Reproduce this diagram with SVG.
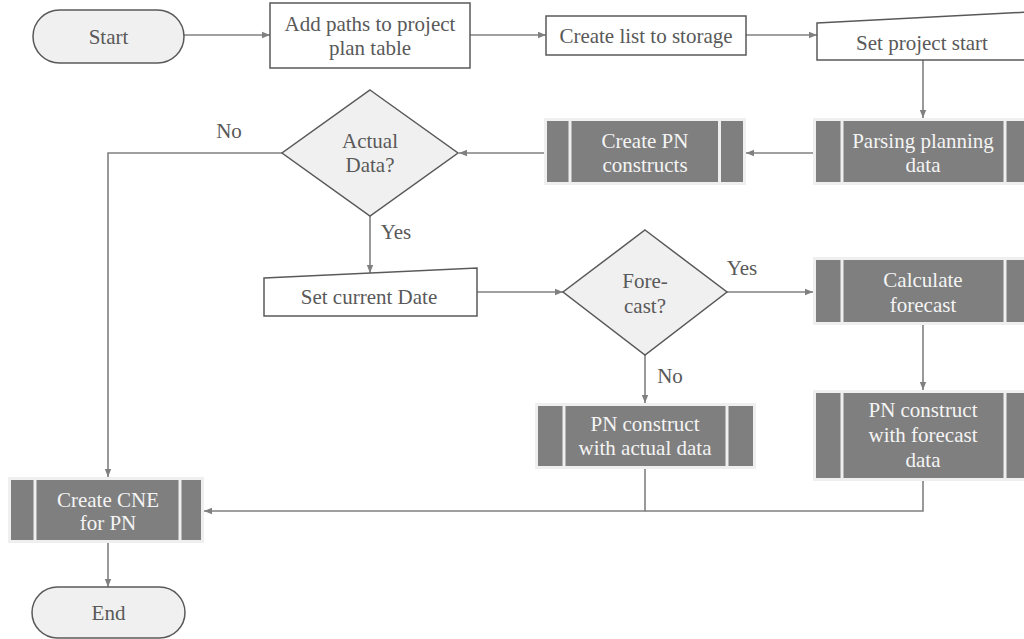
<svg xmlns="http://www.w3.org/2000/svg" width="1024" height="639" viewBox="0 0 1024 639" font-family="'Liberation Serif', 'Times New Roman', Times, 'DejaVu Serif', serif">
<defs>
<style>
text{font-family:'Liberation Serif','Times New Roman',Times,'DejaVu Serif',serif;font-size:21px;text-anchor:middle}
.lt{fill:#595959}
.dk{fill:#f4f4f4}
.term{fill:#f0f0f0;stroke:#595959;stroke-width:1.5}
.box{fill:#ffffff;stroke:#595959;stroke-width:1.5}
.dia{fill:#f0f0f0;stroke:#595959;stroke-width:1.5}
.pp{fill:#7f7f7f;stroke:#efefef;stroke-width:3}
.div{stroke:#efefef;stroke-width:3}
.con{fill:none;stroke:#808080;stroke-width:1.6}
</style>
<marker id="ah" viewBox="0 0 10 10" refX="10" refY="5" markerWidth="8" markerHeight="8" markerUnits="userSpaceOnUse" orient="auto">
<path d="M0,1 L10,5 L0,9 Z" fill="#808080"/>
</marker>
</defs>
<rect width="1024" height="639" fill="#ffffff"/>
<g id="connectors">
<path class="con" d="M184,35 H270" marker-end="url(#ah)"/>
<path class="con" d="M470,35 H546" marker-end="url(#ah)"/>
<path class="con" d="M746,35 H817" marker-end="url(#ah)"/>
<path class="con" d="M923,60 V118" marker-end="url(#ah)"/>
<path class="con" d="M813,153 H746" marker-end="url(#ah)"/>
<path class="con" d="M544,153 H459" marker-end="url(#ah)"/>
<path class="con" d="M282,153 H108 V477" marker-end="url(#ah)"/>
<path class="con" d="M370,216 V273" marker-end="url(#ah)"/>
<path class="con" d="M477,292 H563" marker-end="url(#ah)"/>
<path class="con" d="M727,292 H813" marker-end="url(#ah)"/>
<path class="con" d="M645,355 V403" marker-end="url(#ah)"/>
<path class="con" d="M923,325 V390" marker-end="url(#ah)"/>
<path class="con" d="M923,481 V511 H645"/>
<path class="con" d="M645,469 V511 H204" marker-end="url(#ah)"/>
<path class="con" d="M108,543 V587" marker-end="url(#ah)"/>
<text class="lt" x="229" y="138">No</text>
<text class="lt" x="396" y="239">Yes</text>
<text class="lt" x="742" y="275">Yes</text>
<text class="lt" x="670" y="383">No</text>
</g>
<g id="start">
<rect class="term" x="33" y="10" width="151" height="53" rx="26.5"/>
<text class="lt" x="108.5" y="44">Start</text>
</g>
<g id="add-paths">
<rect class="box" x="270" y="3" width="200" height="65"/>
<text class="lt" x="370" y="31">Add paths to project</text>
<text class="lt" x="370" y="55">plan table</text>
</g>
<g id="create-list">
<rect class="box" x="546" y="16" width="200" height="39"/>
<text class="lt" x="646" y="43">Create list to storage</text>
</g>
<g id="set-project-start">
<polygon class="box" points="817,23 1030,12 1030,60 817,60"/>
<text class="lt" x="922" y="50">Set project start</text>
</g>
<g id="parsing">
<rect class="pp" x="814.5" y="119.5" width="222" height="64"/>
<line class="div" x1="842" y1="119" x2="842" y2="184"/>
<line class="div" x1="1005" y1="119" x2="1005" y2="184"/>
<text class="dk" x="923" y="148">Parsing planning</text>
<text class="dk" x="923" y="172">data</text>
</g>
<g id="create-pn">
<rect class="pp" x="545.5" y="119.5" width="199" height="64"/>
<line class="div" x1="570" y1="119" x2="570" y2="184"/>
<line class="div" x1="719.5" y1="119" x2="719.5" y2="184"/>
<text class="dk" x="645" y="148">Create PN</text>
<text class="dk" x="645" y="172">constructs</text>
</g>
<g id="actual-data">
<polygon class="dia" points="370,90 458,153 370,216 282,153"/>
<text class="lt" x="370" y="148">Actual</text>
<text class="lt" x="370" y="172">Data?</text>
</g>
<g id="set-current-date">
<polygon class="box" points="264,278 477,268 477,316 264,316"/>
<text class="lt" x="369" y="304">Set current Date</text>
</g>
<g id="forecast">
<polygon class="dia" points="645,230 727,292 645,355 563,292"/>
<text class="lt" x="645" y="288">Fore-</text>
<text class="lt" x="645" y="313">cast?</text>
</g>
<g id="calculate-forecast">
<rect class="pp" x="814.5" y="258.5" width="222" height="65"/>
<line class="div" x1="842" y1="258" x2="842" y2="324"/>
<line class="div" x1="1005" y1="258" x2="1005" y2="324"/>
<text class="dk" x="923" y="287">Calculate</text>
<text class="dk" x="923" y="312">forecast</text>
</g>
<g id="pn-forecast">
<rect class="pp" x="814.5" y="391.5" width="222" height="88"/>
<line class="div" x1="842" y1="391" x2="842" y2="480"/>
<line class="div" x1="1005" y1="391" x2="1005" y2="480"/>
<text class="dk" x="923" y="417">PN construct</text>
<text class="dk" x="923" y="442">with forecast</text>
<text class="dk" x="923" y="467">data</text>
</g>
<g id="pn-actual">
<rect class="pp" x="536.5" y="404.5" width="218" height="63"/>
<line class="div" x1="564" y1="404" x2="564" y2="468"/>
<line class="div" x1="727" y1="404" x2="727" y2="468"/>
<text class="dk" x="645" y="431">PN construct</text>
<text class="dk" x="645" y="455">with actual data</text>
</g>
<g id="create-cne">
<rect class="pp" x="9.5" y="478.5" width="193" height="63"/>
<line class="div" x1="35" y1="478" x2="35" y2="542"/>
<line class="div" x1="180" y1="478" x2="180" y2="542"/>
<text class="dk" x="108" y="507">Create CNE</text>
<text class="dk" x="108" y="530">for PN</text>
</g>
<g id="end">
<rect class="term" x="32" y="587" width="153" height="51" rx="25.5"/>
<text class="lt" x="108.5" y="620">End</text>
</g>
</svg>
